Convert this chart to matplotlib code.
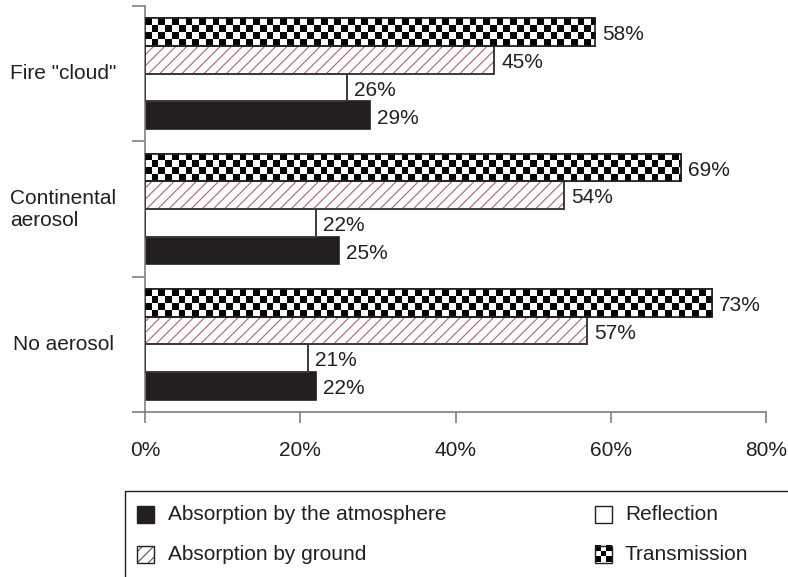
import numpy as np
import matplotlib.pyplot as plt
from matplotlib.patches import Rectangle
from matplotlib.transforms import blended_transform_factory

plt.rcParams['font.family'] = ['Liberation Sans', 'DejaVu Sans']
plt.rcParams['hatch.linewidth'] = 0.8

# datos (de abajo hacia arriba)
categories = ['No aerosol', 'Continental\naerosol', 'Fire "cloud"']
series = ['Absorption by the atmosphere', 'Absorption by ground', 'Reflection', 'Transmission']
atmosphere = [22, 25, 29]
reflection = [21, 22, 26]
ground = [57, 54, 45]
transmission = [73, 69, 58]
xticks = [0, 20, 40, 60, 80]
xtick_labels = ['0%', '20%', '40%', '60%', '80%']

DARK = '#231f20'
EDGE = '#3a3a3a'
GREY = '#808080'
HATCH = '#b0607f'
FS = 15

fig = plt.figure(figsize=(7.88, 5.77), dpi=100)
ax = fig.add_axes([145 / 788, 1 - 412 / 577, 621 / 788, 406 / 577])

h = 0.205
y = np.arange(len(categories)) + 0.5
offs = [-1.5 * h, -0.5 * h, 0.5 * h, 1.5 * h]  # atm, refl, ground, trans

b_atm = ax.barh(y + offs[0], atmosphere, h, color=DARK, edgecolor=DARK, lw=1.2, zorder=2)
b_ref = ax.barh(y + offs[1], reflection, h, color='white', edgecolor=EDGE, lw=1.4, zorder=4)
b_gr = ax.barh(y + offs[2], ground, h, color='white', edgecolor=HATCH, lw=0, hatch='///', zorder=2)
ax.barh(y + offs[2], ground, h, fill=False, edgecolor=EDGE, lw=1.4, zorder=4)
b_tr = ax.barh(y + offs[3], transmission, h, color='white', edgecolor=DARK, lw=1.2, zorder=2)
ax.barh(y + offs[3], transmission, h, fill=False, edgecolor=DARK, lw=1.2, zorder=4)

# tablero de ajedrez dentro de cada barra de transmisión
cell = 80 / 92
for r in b_tr:
    w = r.get_width()
    ncol = int(np.ceil(w / cell))
    ii, jj = np.mgrid[0:4, 0:ncol]
    board = (ii + jj) % 2
    im = ax.imshow(board, cmap='gray', vmin=0, vmax=1, interpolation='nearest',
                   extent=[0, ncol * cell, r.get_y(), r.get_y() + r.get_height()],
                   aspect='auto', origin='upper', zorder=3)
    im.set_clip_path(r)

# etiquetas de valores
for bars, vals in [(b_atm, atmosphere), (b_ref, reflection), (b_gr, ground), (b_tr, transmission)]:
    for r, v in zip(bars, vals):
        ax.annotate(f'{v}%', xy=(v, r.get_y() + r.get_height() / 2), xytext=(5, -2),
                    textcoords='offset points', ha='left', va='center', fontsize=FS, color=DARK)

ax.set_xlim(0, 80)
ax.set_ylim(0, 3)
ax.set_xticks(xticks)
ax.set_xticklabels(xtick_labels, fontsize=FS, color=DARK)
ax.set_yticks([0, 1, 2, 3])
ax.set_yticklabels([])
ax.tick_params(axis='x', length=8, width=1.2, color=GREY, pad=13)
ax.tick_params(axis='y', length=9.4, width=1.2, color=GREY)
for s in ['top', 'right']:
    ax.spines[s].set_visible(False)
for s in ['left', 'bottom']:
    ax.spines[s].set_color(GREY)
    ax.spines[s].set_linewidth(1.2)

trans = blended_transform_factory(ax.transAxes, ax.transData)
for yc, cat in zip(y, categories):
    ax.text(-0.132, yc, cat, transform=trans, ha='center', va='center',
            multialignment='left', fontsize=FS, color=DARK)

# leyenda dibujada a mano en píxeles
lg = fig.add_axes([0, 0, 1, 1])
lg.axis('off')
lg.patch.set_visible(False)
lg.add_patch(Rectangle((125, 491), 700, 120, fill=False, edgecolor=DARK, lw=1))

isz = 17
rows = [514, 554]
lg.add_patch(Rectangle((137, rows[0] - isz / 2), isz, isz, facecolor=DARK, edgecolor=DARK, lw=1))
lg.add_patch(Rectangle((137, rows[1] - isz / 2), isz, isz, facecolor='white', edgecolor='#555555',
                       hatch='///', lw=0))
lg.add_patch(Rectangle((137, rows[1] - isz / 2), isz, isz, fill=False, edgecolor=DARK, lw=1))
lg.add_patch(Rectangle((595, rows[0] - isz / 2), isz, isz, facecolor='white', edgecolor=DARK, lw=1))
icon = np.array([[0, 1, 0], [1, 0, 1], [0, 1, 0]])
lg.imshow(icon, cmap='gray', vmin=0, vmax=1, interpolation='nearest',
          extent=[595, 595 + isz, rows[1] + isz / 2, rows[1] - isz / 2], aspect='auto')
lg.add_patch(Rectangle((595, rows[1] - isz / 2), isz, isz, fill=False, edgecolor=DARK, lw=1))
lg.set_xlim(0, 788)
lg.set_ylim(577, 0)

lg.text(168, rows[0], series[0], ha='left', va='center', fontsize=FS, color=DARK)
lg.text(168, rows[1], series[1], ha='left', va='center', fontsize=FS, color=DARK)
lg.text(625, rows[0], series[2], ha='left', va='center', fontsize=FS, color=DARK)
lg.text(625, rows[1], series[3], ha='left', va='center', fontsize=FS, color=DARK)

fig.savefig('out.png', dpi=100)
